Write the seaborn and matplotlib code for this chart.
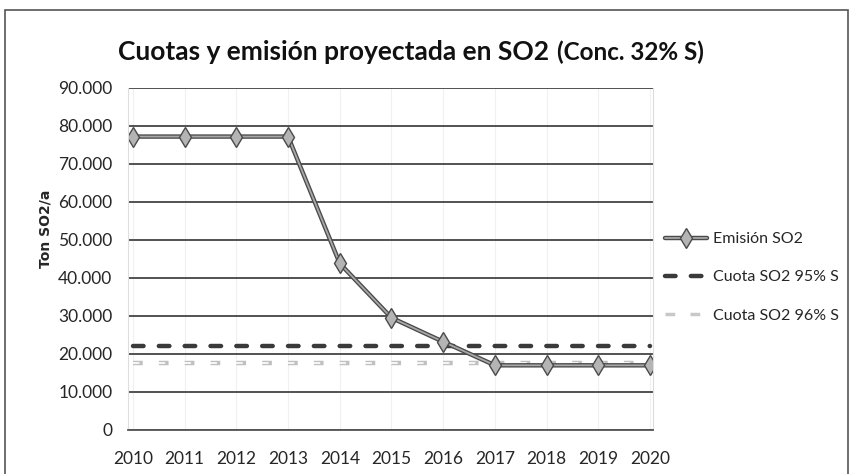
import pandas as pd
import matplotlib.pyplot as plt
import seaborn as sns
from matplotlib.patches import Rectangle
from matplotlib.lines import Line2D

years = [2010, 2011, 2012, 2013, 2014, 2015, 2016, 2017, 2018, 2019, 2020]
emision = [77200, 77200, 77200, 77200, 43800, 29500, 23200, 17000, 17000, 17000, 17000]
cuota_95 = [22000] * 11
cuota_96 = [17500] * 11
y_ticks = [0, 10000, 20000, 30000, 40000, 50000, 60000, 70000, 80000, 90000]
y_labels = ['0', '10.000', '20.000', '30.000', '40.000', '50.000', '60.000', '70.000', '80.000', '90.000']

df = pd.DataFrame({'year': years, 'emision': emision, 'c95': cuota_95, 'c96': cuota_96})

sns.set_style('white')
plt.rcParams['font.family'] = ['Lato', 'DejaVu Sans']
plt.rcParams['lines.scale_dashes'] = False

fig = plt.figure(figsize=(8.53, 4.74), dpi=100)
ax = fig.add_axes([0.1498, 0.093, 0.6153, 0.7215])

# cuota 96% S: light hollow-looking dashes
sns.lineplot(data=df, x='year', y='c96', ax=ax, color='#c0c0c0', linewidth=3.2, legend=False)
ax.lines[-1].set_linestyle((0, (7, 11.6)))
ax.lines[-1].set_dash_capstyle('butt')
sns.lineplot(data=df, x='year', y='c96', ax=ax, color='white', linewidth=1.2, legend=False)
ax.lines[-1].set_linestyle((0.8, (5.4, 13.2)))
ax.lines[-1].set_dash_capstyle('butt')

# cuota 95% S: dark thick dashes
sns.lineplot(data=df, x='year', y='c95', ax=ax, color='#3a3a3a', linewidth=3.2, legend=False)
ax.lines[-1].set_linestyle((0, (7.6, 11)))
ax.lines[-1].set_dash_capstyle('round')

# emision SO2: outlined grey line with diamonds
sns.lineplot(data=df, x='year', y='emision', ax=ax, color='#4a4a4a', linewidth=3.2, legend=False)
sns.lineplot(data=df, x='year', y='emision', ax=ax, color='#a8a8a8', linewidth=1.3,
             marker='d', markersize=10.5, markerfacecolor='#b4b4b4',
             markeredgecolor='#4a4a4a', markeredgewidth=1.0, legend=False)

ax.set_xlim(2009.9, 2020.05)
ax.set_ylim(0, 90000)
ax.set_xticks(years)
ax.set_xticklabels([str(y) for y in years], fontsize=12.5)
ax.set_yticks(y_ticks)
ax.set_yticklabels(y_labels, fontsize=12.5)
ax.tick_params(axis='x', direction='in', length=5, width=1, color='#555555', pad=15)
ax.tick_params(axis='y', length=0, pad=11)
ax.yaxis.grid(True, color='#444444', linewidth=1.3)
for x in years:
    ax.axvline(x, color='#f0f0f0', linewidth=0.8, zorder=0)
ax.spines['top'].set_visible(False)
ax.spines['left'].set_color('#dddddd')
ax.spines['right'].set_color('#dddddd')
ax.spines['bottom'].set_color('#555555')
ax.spines['bottom'].set_linewidth(1.3)
ax.set_xlabel('')
ax.set_ylabel('Ton SO2/a', fontsize=10, fontweight='bold', family='DejaVu Sans')
ax.yaxis.set_label_coords(-0.143, 0.588)

# title in two sizes
fig.text(0.138, 0.873, 'Cuotas y emisión proyectada en SO2', fontsize=19, fontweight='bold',
         ha='left', va='baseline', color='#111111')
fig.text(0.653, 0.873, '(Conc. 32% S)', fontsize=17.5, fontweight='bold',
         ha='left', va='baseline', color='#111111')

# legend with proxy lines
h1 = (Line2D([], [], color='#4a4a4a', linewidth=3.2),
      Line2D([], [], color='#a8a8a8', linewidth=1.3, marker='d', markersize=10,
             markerfacecolor='#b4b4b4', markeredgecolor='#4a4a4a'))
h2 = Line2D([], [], color='#3a3a3a', linewidth=3.2, linestyle=(0, (7.6, 11)), dash_capstyle='round')
h3 = Line2D([], [], color='#c8c8c8', linewidth=2.5, linestyle=(0, (7, 11)))
leg = fig.legend([h1, h2, h3], ['Emisión SO2', 'Cuota SO2 95% S', 'Cuota SO2 96% S'],
                 loc='center left', bbox_to_anchor=(0.763, 0.415), frameon=False,
                 fontsize=11.5, handlelength=2.6, handletextpad=0.4, labelspacing=1.5)

fig.patches.append(Rectangle((5 / 853, -0.01), 843 / 853, 0.989, transform=fig.transFigure,
                             fill=False, edgecolor='#555555', linewidth=1.2))

fig.savefig('out.png', dpi=100, facecolor='white')
